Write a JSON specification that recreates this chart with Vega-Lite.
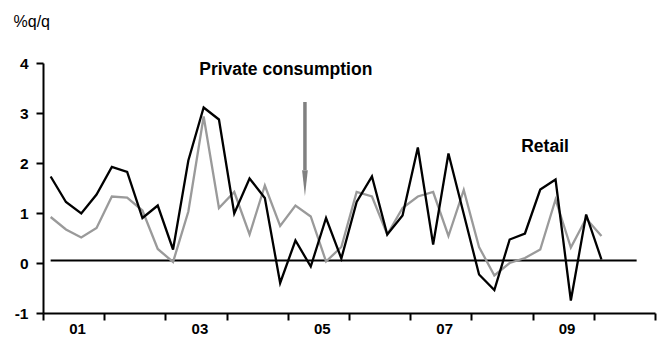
{
  "$schema": "https://vega.github.io/schema/vega-lite/v6.json",
  "width": 612,
  "height": 250,
  "autosize": {"type": "none"},
  "padding": {"left": 43, "top": 63, "right": 5, "bottom": 24},
  "background": "white",
  "config": {
    "view": {"stroke": null},
    "font": "Liberation Sans",
    "axis": {
      "grid": false,
      "domainColor": "#000000",
      "domainWidth": 2,
      "tickColor": "#000000",
      "tickWidth": 2,
      "tickSize": 7,
      "labelColor": "#000000",
      "labelFont": "Liberation Sans",
      "labelFontWeight": "bold",
      "labelFontSize": 15.5
    }
  },
  "datasets": {
    "quarterly": [
      {"t": 2001.125, "series": "Retail", "value": 1.73},
      {"t": 2001.375, "series": "Retail", "value": 1.22},
      {"t": 2001.625, "series": "Retail", "value": 0.99},
      {"t": 2001.875, "series": "Retail", "value": 1.37},
      {"t": 2002.125, "series": "Retail", "value": 1.92},
      {"t": 2002.375, "series": "Retail", "value": 1.82},
      {"t": 2002.625, "series": "Retail", "value": 0.90},
      {"t": 2002.875, "series": "Retail", "value": 1.15},
      {"t": 2003.125, "series": "Retail", "value": 0.27},
      {"t": 2003.375, "series": "Retail", "value": 2.05},
      {"t": 2003.625, "series": "Retail", "value": 3.11},
      {"t": 2003.875, "series": "Retail", "value": 2.87},
      {"t": 2004.125, "series": "Retail", "value": 0.99},
      {"t": 2004.375, "series": "Retail", "value": 1.69},
      {"t": 2004.625, "series": "Retail", "value": 1.30},
      {"t": 2004.875, "series": "Retail", "value": -0.40},
      {"t": 2005.125, "series": "Retail", "value": 0.45},
      {"t": 2005.375, "series": "Retail", "value": -0.07},
      {"t": 2005.625, "series": "Retail", "value": 0.90},
      {"t": 2005.875, "series": "Retail", "value": 0.09},
      {"t": 2006.125, "series": "Retail", "value": 1.22},
      {"t": 2006.375, "series": "Retail", "value": 1.73},
      {"t": 2006.625, "series": "Retail", "value": 0.57},
      {"t": 2006.875, "series": "Retail", "value": 0.95},
      {"t": 2007.125, "series": "Retail", "value": 2.31},
      {"t": 2007.375, "series": "Retail", "value": 0.37},
      {"t": 2007.625, "series": "Retail", "value": 2.19},
      {"t": 2007.875, "series": "Retail", "value": 0.98},
      {"t": 2008.125, "series": "Retail", "value": -0.23},
      {"t": 2008.375, "series": "Retail", "value": -0.54},
      {"t": 2008.625, "series": "Retail", "value": 0.47},
      {"t": 2008.875, "series": "Retail", "value": 0.59},
      {"t": 2009.125, "series": "Retail", "value": 1.47},
      {"t": 2009.375, "series": "Retail", "value": 1.67},
      {"t": 2009.625, "series": "Retail", "value": -0.75},
      {"t": 2009.875, "series": "Retail", "value": 0.97},
      {"t": 2010.125, "series": "Retail", "value": 0.07},
      {"t": 2001.125, "series": "Private consumption", "value": 0.92},
      {"t": 2001.375, "series": "Private consumption", "value": 0.67},
      {"t": 2001.625, "series": "Private consumption", "value": 0.51},
      {"t": 2001.875, "series": "Private consumption", "value": 0.70},
      {"t": 2002.125, "series": "Private consumption", "value": 1.33},
      {"t": 2002.375, "series": "Private consumption", "value": 1.31},
      {"t": 2002.625, "series": "Private consumption", "value": 1.05},
      {"t": 2002.875, "series": "Private consumption", "value": 0.28},
      {"t": 2003.125, "series": "Private consumption", "value": 0.02},
      {"t": 2003.375, "series": "Private consumption", "value": 1.03},
      {"t": 2003.625, "series": "Private consumption", "value": 2.93},
      {"t": 2003.875, "series": "Private consumption", "value": 1.10},
      {"t": 2004.125, "series": "Private consumption", "value": 1.42},
      {"t": 2004.375, "series": "Private consumption", "value": 0.57},
      {"t": 2004.625, "series": "Private consumption", "value": 1.55},
      {"t": 2004.875, "series": "Private consumption", "value": 0.74},
      {"t": 2005.125, "series": "Private consumption", "value": 1.15},
      {"t": 2005.375, "series": "Private consumption", "value": 0.93},
      {"t": 2005.625, "series": "Private consumption", "value": 0.03},
      {"t": 2005.875, "series": "Private consumption", "value": 0.32},
      {"t": 2006.125, "series": "Private consumption", "value": 1.42},
      {"t": 2006.375, "series": "Private consumption", "value": 1.33},
      {"t": 2006.625, "series": "Private consumption", "value": 0.57},
      {"t": 2006.875, "series": "Private consumption", "value": 1.10},
      {"t": 2007.125, "series": "Private consumption", "value": 1.33},
      {"t": 2007.375, "series": "Private consumption", "value": 1.42},
      {"t": 2007.625, "series": "Private consumption", "value": 0.54},
      {"t": 2007.875, "series": "Private consumption", "value": 1.46},
      {"t": 2008.125, "series": "Private consumption", "value": 0.32},
      {"t": 2008.375, "series": "Private consumption", "value": -0.25},
      {"t": 2008.625, "series": "Private consumption", "value": 0.00},
      {"t": 2008.875, "series": "Private consumption", "value": 0.10},
      {"t": 2009.125, "series": "Private consumption", "value": 0.27},
      {"t": 2009.375, "series": "Private consumption", "value": 1.27},
      {"t": 2009.625, "series": "Private consumption", "value": 0.31},
      {"t": 2009.875, "series": "Private consumption", "value": 0.89},
      {"t": 2010.125, "series": "Private consumption", "value": 0.54}
    ],
    "baseline": [{"t0": 2001.125, "t1": 2010.7, "v": 0.05}],
    "arrow": [{"t": 2005.28, "top": 3.22, "bottom": 1.86, "head": 1.594}],
    "notes": [
      {"t": 2004.967, "v": 3.754, "label": "Private consumption"},
      {"t": 2009.203, "v": 2.22, "label": "Retail"}
    ]
  },
  "encoding": {
    "x": {
      "field": "t",
      "type": "quantitative",
      "scale": {"domain": [2001, 2011], "nice": false, "zero": false},
      "axis": {
        "title": null,
        "values": [2001, 2002, 2003, 2004, 2005, 2006, 2007, 2008, 2009, 2010, 2011],
        "labelExpr": "datum.value % 2 == 1 && datum.value < 2010 ? '0' + (datum.value - 2000) : ''",
        "labelAlign": "center",
        "labelOffset": 34,
        "labelPadding": 1,
        "labelFontSize": 15,
        "labelFlush": false,
        "labelOverlap": false
      }
    }
  },
  "layer": [
    {
      "data": {"name": "baseline"},
      "mark": {"type": "rule", "color": "#000000", "strokeWidth": 2},
      "encoding": {
        "x": {"field": "t0", "type": "quantitative"},
        "x2": {"field": "t1"},
        "y": {
          "field": "v",
          "type": "quantitative",
          "scale": {"domain": [-1, 4], "nice": false, "zero": false},
          "axis": {
            "values": [-1, 0, 1, 2, 3, 4],
            "labelExpr": "datum.value < 0 ? '-' + abs(datum.value) : '' + datum.value",
            "labelPadding": 8,
            "title": "%q/q",
            "titleAngle": 0,
            "titleAlign": "left",
            "titleBaseline": "alphabetic",
            "titleX": -30,
            "titleY": -37,
            "titleFont": "Liberation Sans",
            "titleFontWeight": "normal",
            "titleFontSize": 16,
            "titleColor": "#000000"
          }
        }
      }
    },
    {
      "data": {"name": "quarterly"},
      "transform": [{"filter": "datum.series == 'Private consumption'"}],
      "mark": {"type": "line", "color": "#9a9a9a", "strokeWidth": 2.3},
      "encoding": {
        "y": {"field": "value", "type": "quantitative"}
      }
    },
    {
      "data": {"name": "quarterly"},
      "transform": [{"filter": "datum.series == 'Retail'"}],
      "mark": {"type": "line", "color": "#000000", "strokeWidth": 2.3},
      "encoding": {
        "y": {"field": "value", "type": "quantitative"}
      }
    },
    {
      "data": {"name": "arrow"},
      "mark": {"type": "rule", "color": "#808080", "strokeWidth": 3.5},
      "encoding": {
        "y": {"field": "top", "type": "quantitative"},
        "y2": {"field": "bottom"}
      }
    },
    {
      "data": {"name": "arrow"},
      "mark": {
        "type": "point",
        "shape": "M -0.22 -1 L 0.22 -1 L 0 1 Z",
        "filled": true,
        "opacity": 1,
        "color": "#808080",
        "size": 676
      },
      "encoding": {
        "y": {"field": "head", "type": "quantitative"}
      }
    },
    {
      "data": {"name": "notes"},
      "mark": {
        "type": "text",
        "font": "Liberation Sans",
        "fontWeight": "bold",
        "fontSize": 17.5,
        "align": "center",
        "baseline": "alphabetic",
        "color": "#000000"
      },
      "encoding": {
        "y": {"field": "v", "type": "quantitative"},
        "text": {"field": "label"}
      }
    }
  ]
}
